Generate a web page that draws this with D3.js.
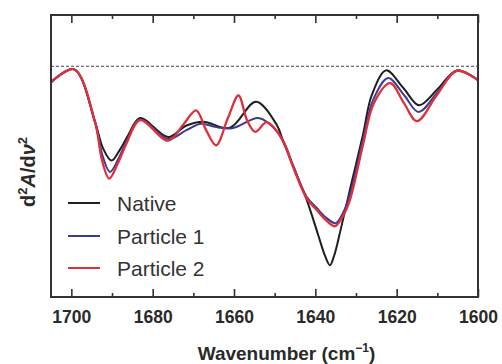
<!DOCTYPE html>
<html>
<head>
<meta charset="utf-8">
<script src="https://cdn.jsdelivr.net/npm/d3@7"></script>
<style>
  html, body { margin: 0; padding: 0; background: #fff; }
  svg { display: block; font-family: "Liberation Sans", Arial, sans-serif; }
</style>
</head>
<body>
<svg id="chart" width="502" height="364"></svg>
<script>
// ---- data ----
const seriesNames = ["Native", "Particle 1", "Particle 2"];
const seriesColors = ["#1f1f1f", "#3a3d8f", "#e0303c"];

const nativeX = [1705.0, 1699.3, 1694.2, 1692.2, 1690.1, 1688.0, 1686.0, 1683.1, 1676.2, 1671.8, 1667.6, 1661.0, 1654.6, 1649.5, 1648.0, 1645.5, 1642.1, 1639.3, 1637.6, 1636.4, 1635.4, 1633.9, 1631.5, 1628.3, 1626.1, 1622.6, 1618.4, 1614.5, 1610.1, 1605.2, 1600.0];
const nativeY = [-0.31, -0.06, -1.08, -1.60, -1.84, -1.62, -1.34, -1.01, -1.38, -1.16, -1.08, -1.20, -0.69, -1.14, -1.44, -1.94, -2.61, -3.29, -3.70, -3.88, -3.70, -3.23, -2.41, -1.34, -0.56, -0.08, -0.42, -0.76, -0.46, -0.08, -0.27];

const particle1X = [1705.0, 1699.3, 1694.2, 1692.3, 1690.5, 1688.4, 1686.2, 1683.1, 1676.2, 1671.6, 1668.1, 1664.7, 1660.5, 1654.1, 1651.2, 1648.0, 1645.5, 1642.1, 1639.7, 1637.4, 1635.0, 1633.2, 1631.5, 1628.3, 1625.8, 1622.1, 1618.2, 1614.6, 1610.1, 1605.2, 1600.0];
const particle1Y = [-0.31, -0.06, -1.08, -1.75, -2.06, -1.80, -1.42, -1.04, -1.42, -1.24, -1.12, -1.18, -1.21, -1.01, -1.13, -1.44, -1.93, -2.55, -2.76, -2.95, -3.06, -2.86, -2.50, -1.44, -0.66, -0.23, -0.56, -0.89, -0.52, -0.09, -0.27];

const particle2X = [1705.0, 1699.3, 1694.2, 1692.4, 1690.7, 1688.6, 1686.4, 1683.1, 1676.2, 1672.5, 1669.3, 1666.9, 1664.4, 1661.5, 1658.9, 1656.8, 1654.8, 1652.0, 1649.7, 1647.5, 1645.5, 1642.1, 1639.7, 1637.4, 1635.2, 1633.2, 1631.5, 1628.3, 1625.6, 1621.6, 1618.2, 1615.0, 1610.1, 1605.2, 1600.0];
const particle2Y = [-0.31, -0.06, -1.08, -1.85, -2.19, -1.90, -1.50, -1.05, -1.45, -1.14, -0.86, -1.24, -1.54, -1.01, -0.57, -1.05, -1.28, -1.09, -1.24, -1.54, -1.96, -2.58, -2.80, -3.00, -3.12, -2.92, -2.61, -1.54, -0.72, -0.33, -0.72, -1.07, -0.56, -0.09, -0.27];

const majorTicks = [1700, 1680, 1660, 1640, 1620, 1600];
const minorTicks = [1690, 1670, 1650, 1630, 1610];

// ---- layout ----
const svg = d3.select("#chart");
const W = 502, H = 364;
const margin = { left: 51, top: 15, right: 24, bottom: 67 };
const iw = W - margin.left - margin.right;
const ih = H - margin.top - margin.bottom;

const x = d3.scaleLinear().domain([1705, 1600]).range([margin.left, margin.left + iw]);
const y = d3.scaleLinear().domain([-4.5, 1.0]).range([margin.top + ih, margin.top]);

svg.append("defs").append("clipPath").attr("id", "clip")
  .append("rect").attr("x", margin.left).attr("y", margin.top).attr("width", iw).attr("height", ih);

// dashed zero line
svg.append("line")
  .attr("x1", margin.left).attr("x2", margin.left + iw)
  .attr("y1", y(0)).attr("y2", y(0))
  .attr("stroke", "#444").attr("stroke-width", 1).attr("stroke-dasharray", "3,2");

// series
const seriesData = [
  nativeX.map((d, i) => [d, nativeY[i]]),
  particle1X.map((d, i) => [d, particle1Y[i]]),
  particle2X.map((d, i) => [d, particle2Y[i]])
];
const line = d3.line().x(d => x(d[0])).y(d => y(d[1])).curve(d3.curveCatmullRom.alpha(0.5));
const g = svg.append("g").attr("clip-path", "url(#clip)");
seriesData.forEach((s, i) => {
  g.append("path").datum(s)
    .attr("fill", "none")
    .attr("stroke", seriesColors[i])
    .attr("stroke-width", i === 2 ? 2.3 : 2)
    .attr("stroke-linejoin", "round")
    .attr("d", line);
});

// axes (ticks inward)
const axisColor = "#333";
const axBottom = svg.append("g").attr("transform", `translate(0,${margin.top + ih})`)
  .call(d3.axisBottom(x).tickValues(majorTicks).tickFormat(d3.format("d")).tickSizeInner(-8).tickSizeOuter(0).tickPadding(14));
axBottom.select(".domain").remove();
axBottom.selectAll(".tick line").attr("stroke", axisColor).attr("stroke-width", 1.6);
axBottom.selectAll(".tick text").attr("fill", "#2a2a2a").attr("font-size", 17.5).attr("font-weight", "bold")
  .attr("font-family", "'Liberation Sans', Arial, sans-serif");

const axBottomMinor = svg.append("g").attr("transform", `translate(0,${margin.top + ih})`)
  .call(d3.axisBottom(x).tickValues(minorTicks).tickFormat("").tickSizeInner(-4).tickSizeOuter(0));
axBottomMinor.select(".domain").remove();
axBottomMinor.selectAll(".tick line").attr("stroke", axisColor).attr("stroke-width", 1.6);

const axTop = svg.append("g").attr("transform", `translate(0,${margin.top})`)
  .call(d3.axisTop(x).tickValues(majorTicks).tickFormat("").tickSizeInner(-8).tickSizeOuter(0));
axTop.select(".domain").remove();
axTop.selectAll(".tick line").attr("stroke", axisColor).attr("stroke-width", 1.6);
const axTopMinor = svg.append("g").attr("transform", `translate(0,${margin.top})`)
  .call(d3.axisTop(x).tickValues(minorTicks).tickFormat("").tickSizeInner(-4).tickSizeOuter(0));
axTopMinor.select(".domain").remove();
axTopMinor.selectAll(".tick line").attr("stroke", axisColor).attr("stroke-width", 1.6);

// frame
svg.append("rect")
  .attr("x", margin.left).attr("y", margin.top).attr("width", iw).attr("height", ih)
  .attr("fill", "none").attr("stroke", axisColor).attr("stroke-width", 2);

// x title
const xt = svg.append("text")
  .attr("x", 286.5).attr("y", 360)
  .attr("text-anchor", "middle")
  .attr("font-size", 19).attr("font-weight", "bold").attr("fill", "#2a2a2a");
xt.append("tspan").text("Wavenumber (cm");
xt.append("tspan").attr("dy", -8).attr("font-size", 12).text("\u22121");
xt.append("tspan").attr("dy", 8).text(")");

// y title
const yt = svg.append("text")
  .attr("transform", "translate(35,172) rotate(-90)")
  .attr("text-anchor", "middle")
  .attr("font-size", 20).attr("font-weight", "bold").attr("fill", "#2a2a2a");
yt.append("tspan").text("d");
yt.append("tspan").attr("dy", -8).attr("font-size", 13).text("2");
yt.append("tspan").attr("dy", 8).attr("font-style", "italic").text("A");
yt.append("tspan").text("/d");
yt.append("tspan").attr("font-style", "italic").text("\u03bd");
yt.append("tspan").attr("dy", -8).attr("font-size", 13).text("2");

// legend
const legendY = [203, 236, 268];
seriesNames.forEach((name, i) => {
  svg.append("line")
    .attr("x1", 68).attr("x2", 100)
    .attr("y1", legendY[i]).attr("y2", legendY[i])
    .attr("stroke", seriesColors[i]).attr("stroke-width", 2);
  svg.append("text")
    .attr("x", 117).attr("y", legendY[i] + 7.5)
    .attr("font-size", 21).attr("fill", "#333")
    .text(name);
});
</script>
</body>
</html>
